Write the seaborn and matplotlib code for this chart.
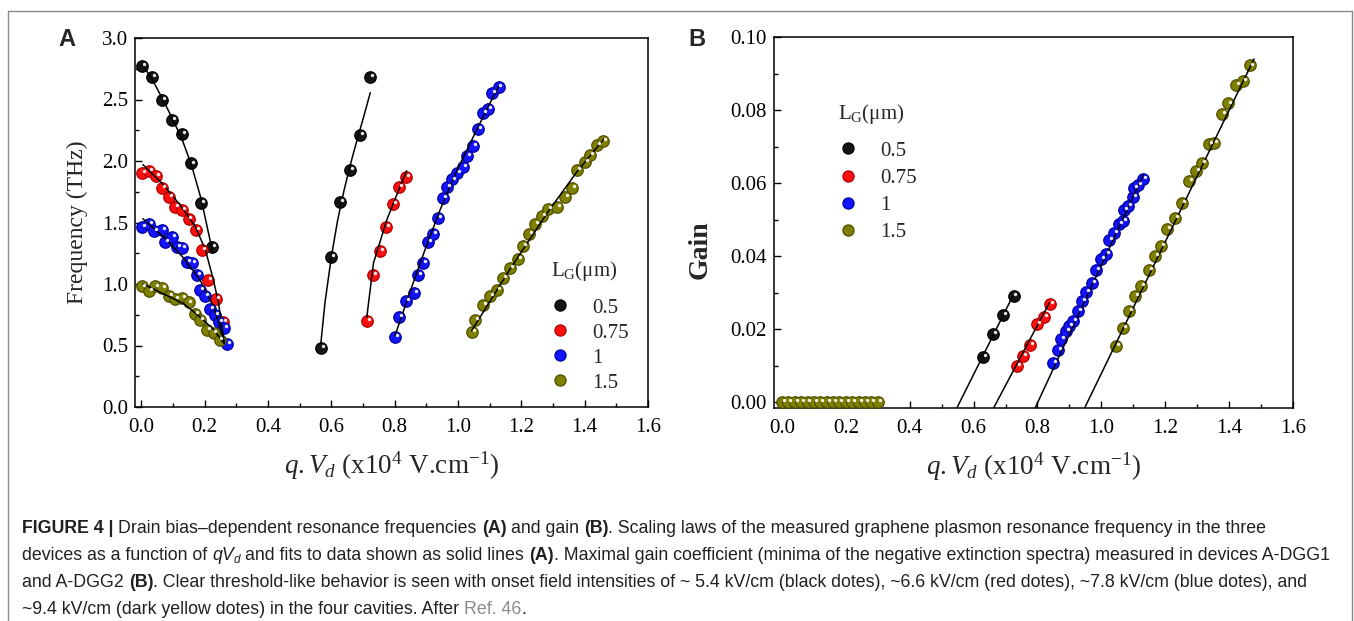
import numpy as np
import pandas as pd
import seaborn as sns
import matplotlib.pyplot as plt
from matplotlib.lines import Line2D
from matplotlib.legend_handler import HandlerTuple
from matplotlib.ticker import MultipleLocator, FormatStrFormatter
from matplotlib.transforms import offset_copy

# ---------------- data ----------------
lg_labels = ['0.5', '0.75', '1', '1.5']
lg_colors = ['#151515', '#ff1010', '#1414ff', '#808000']
lg_edges = ['#000000', '#b00000', '#0000a0', '#4f4f00']

# panel A : resonance frequency (THz)
a05_x = [0.002, 0.035, 0.066, 0.097, 0.128, 0.158, 0.189, 0.223,
         0.567, 0.599, 0.628, 0.660, 0.691, 0.723]
a05_y = [2.77, 2.685, 2.50, 2.33, 2.22, 1.98, 1.66, 1.30,
         0.477, 1.217, 1.664, 1.93, 2.21, 2.68]
a075_x = [0.002, 0.025, 0.045, 0.065, 0.086, 0.107, 0.128, 0.149, 0.174, 0.191, 0.212, 0.237, 0.258,
          0.712, 0.731, 0.754, 0.773, 0.794, 0.814, 0.836]
a075_y = [1.90, 1.92, 1.88, 1.78, 1.71, 1.63, 1.60, 1.53, 1.44, 1.28, 1.03, 0.88, 0.69,
          0.70, 1.07, 1.27, 1.46, 1.65, 1.79, 1.87]
a1_x = [0.002, 0.023, 0.039, 0.065, 0.076, 0.097, 0.113, 0.128, 0.144, 0.160, 0.176, 0.186, 0.202,
        0.218, 0.233, 0.244, 0.260, 0.272,
        0.801, 0.815, 0.836, 0.861, 0.875, 0.891, 0.904, 0.922, 0.936, 0.952, 0.965, 0.980, 0.996,
        1.015, 1.028, 1.047, 1.064, 1.080, 1.096, 1.107, 1.128]
a1_y = [1.46, 1.49, 1.43, 1.44, 1.34, 1.38, 1.30, 1.29, 1.18, 1.17, 1.07, 0.95, 0.90,
        0.80, 0.75, 0.69, 0.64, 0.51,
        0.567, 0.73, 0.86, 0.93, 1.07, 1.17, 1.34, 1.41, 1.54, 1.70, 1.79, 1.85, 1.90,
        1.95, 2.04, 2.12, 2.26, 2.39, 2.42, 2.55, 2.60]
a15_x = [0.002, 0.023, 0.044, 0.065, 0.086, 0.107, 0.128, 0.149, 0.170, 0.186, 0.207, 0.228, 0.247,
         1.043, 1.054, 1.080, 1.101, 1.122, 1.143, 1.164, 1.191, 1.206, 1.225, 1.243, 1.264,
         1.285, 1.312, 1.338, 1.359, 1.375, 1.401, 1.417, 1.438, 1.459]
a15_y = [0.98, 0.94, 0.98, 0.965, 0.90, 0.88, 0.89, 0.85, 0.76, 0.71, 0.63, 0.60, 0.545,
         0.61, 0.71, 0.83, 0.90, 0.95, 1.05, 1.13, 1.20, 1.31, 1.41, 1.49, 1.55,
         1.61, 1.63, 1.71, 1.78, 1.93, 1.99, 2.05, 2.13, 2.165]

# panel A : fit curves (each branch separately)
fitA = [
    ([0.002, 0.035, 0.066, 0.097, 0.128, 0.158, 0.189, 0.225],
     [2.79, 2.66, 2.51, 2.35, 2.18, 1.97, 1.69, 1.26]),
    ([0.567, 0.58, 0.60, 0.62, 0.64, 0.66, 0.68, 0.70, 0.723],
     [0.52, 0.85, 1.22, 1.52, 1.76, 1.97, 2.16, 2.34, 2.555]),
    ([0.005, 0.065, 0.123, 0.170, 0.202, 0.228, 0.244, 0.262],
     [1.97, 1.82, 1.64, 1.47, 1.28, 1.03, 0.84, 0.52]),
    ([0.712, 0.733, 0.775, 0.812, 0.838],
     [0.73, 1.17, 1.52, 1.76, 1.92]),
    ([0.005, 0.070, 0.134, 0.186, 0.228, 0.249, 0.262],
     [1.53, 1.385, 1.21, 1.03, 0.815, 0.65, 0.52]),
    ([0.801, 0.849, 0.896, 0.943, 0.996, 1.049, 1.091, 1.131],
     [0.58, 0.94, 1.28, 1.60, 1.92, 2.20, 2.42, 2.62]),
    ([0.005, 0.070, 0.134, 0.186, 0.228, 0.260],
     [1.00, 0.92, 0.84, 0.73, 0.63, 0.52]),
    ([1.043, 1.164, 1.285, 1.375, 1.461],
     [0.62, 1.12, 1.59, 1.91, 2.18]),
]

# panel B : gain
b05_x = [0.629, 0.660, 0.692, 0.725]
b05_y = [0.0125, 0.0187, 0.0239, 0.0290]
b075_x = [0.735, 0.754, 0.777, 0.798, 0.819, 0.840]
b075_y = [0.0098, 0.0126, 0.0156, 0.0215, 0.0233, 0.0270]
b1_x = [0.850, 0.864, 0.874, 0.888, 0.900, 0.910, 0.926, 0.940, 0.952, 0.971, 0.983, 0.999,
        1.015, 1.023, 1.041, 1.054, 1.067, 1.072, 1.082, 1.098, 1.103, 1.116, 1.129]
b1_y = [0.0108, 0.0143, 0.0172, 0.0195, 0.0208, 0.0222, 0.0250, 0.0278, 0.0303, 0.0327, 0.0362, 0.0391,
        0.0407, 0.0445, 0.0463, 0.0487, 0.0495, 0.0527, 0.0538, 0.0562, 0.0586, 0.0594, 0.0612]
b15_x = [0.00, 0.02, 0.04, 0.06, 0.08, 0.10, 0.12, 0.14, 0.16, 0.18, 0.20, 0.22, 0.24, 0.26, 0.28, 0.30,
         1.046, 1.067, 1.088, 1.106, 1.124, 1.148, 1.169, 1.186, 1.207, 1.231, 1.252, 1.273,
         1.296, 1.315, 1.338, 1.353, 1.379, 1.398, 1.421, 1.444, 1.465]
b15_y = [0.0, 0.0, 0.0, 0.0, 0.0, 0.0, 0.0, 0.0, 0.0, 0.0, 0.0, 0.0, 0.0, 0.0, 0.0, 0.0,
         0.0153, 0.0203, 0.0250, 0.0290, 0.0318, 0.0362, 0.0400, 0.0428, 0.0475, 0.0505, 0.0545, 0.0605,
         0.0632, 0.0655, 0.0708, 0.0710, 0.0790, 0.0818, 0.0868, 0.0880, 0.0922]

fitB = [
    ([0.548, 0.725], [-0.0015, 0.0295]),
    ([0.663, 0.837], [-0.0015, 0.0272]),
    ([0.793, 1.131], [-0.0015, 0.0622]),
    ([0.948, 1.478], [-0.0015, 0.0940]),
]

# ---------------- style ----------------
sns.set_style('ticks')
plt.rcParams['font.family'] = ['Liberation Serif', 'DejaVu Serif']
plt.rcParams['mathtext.fontset'] = 'custom'
plt.rcParams['mathtext.rm'] = 'Liberation Serif'
plt.rcParams['mathtext.it'] = 'Liberation Serif:italic'
plt.rcParams['mathtext.bf'] = 'Liberation Serif:bold'

W, H = 1354, 621
fig = plt.figure(figsize=(W / 100, H / 100), dpi=100)
axA = fig.add_axes([135 / W, 1 - 407 / H, 513 / W, 369 / H])
axB = fig.add_axes([774 / W, 1 - 407.7 / H, 519 / W, 370.7 / H])


def balls(ax, xs, ys, color, edge):
    df = pd.DataFrame({'x': xs, 'y': ys})
    sns.scatterplot(data=df, x='x', y='y', color=color, edgecolor=edge, linewidth=0.9,
                    s=68, ax=ax, zorder=3, clip_on=False, legend=False)
    shift = offset_copy(ax.transData, fig=fig, x=1.4, y=1.4, units='points')
    ax.scatter(df['x'], df['y'], s=6, color='white', alpha=0.9, linewidths=0,
               transform=shift, zorder=5, clip_on=False)


def fits(ax, curves):
    for fx, fy in curves:
        sns.lineplot(x=fx, y=fy, sort=False, estimator=None, color='black', lw=1.1,
                     ax=ax, zorder=4)


def style_axes(ax, xlim, ylim, ymajor, yminor, yfmt):
    ax.set_xlim(*xlim)
    ax.set_ylim(*ylim)
    ax.xaxis.set_major_locator(MultipleLocator(0.2))
    ax.xaxis.set_minor_locator(MultipleLocator(0.1))
    ax.yaxis.set_major_locator(MultipleLocator(ymajor))
    ax.yaxis.set_minor_locator(MultipleLocator(yminor))
    ax.xaxis.set_major_formatter(FormatStrFormatter('%.1f'))
    ax.yaxis.set_major_formatter(FormatStrFormatter(yfmt))
    ax.tick_params(which='both', direction='in', top=False, right=False, width=1.0,
                   colors='black', labelsize=15)
    ax.tick_params(which='major', length=5)
    ax.tick_params(which='minor', length=3)
    ax.tick_params(axis='y', pad=5)
    ax.tick_params(axis='x', pad=8)
    for sp in ax.spines.values():
        sp.set_visible(True)
        sp.set_linewidth(1.1)
        sp.set_color('black')


def make_legend(ax, anchor, spacing):
    handles = []
    for c, e in zip(lg_colors, lg_edges):
        handles.append((Line2D([], [], ls='', marker='o', ms=8, mfc=c, mec=e, mew=0.9),
                        Line2D([], [], ls='', marker='o', ms=2.2, mfc='white', mec='white')))
    leg = ax.legend(handles, lg_labels, handler_map={tuple: HandlerTuple(ndivide=None)},
                    title='L$_\\mathrm{G}$(μm)', loc='upper left', bbox_to_anchor=anchor,
                    frameon=False, fontsize=15, title_fontsize=15, handlelength=1.8,
                    handletextpad=0.2, labelspacing=spacing, borderpad=0, alignment='left')
    leg._legend_box.sep = 11
    return leg


xlab = '$q.V_d$ (x10$^4$ V.cm$^{-1}$)'

# ---------------- panel A ----------------
for xs, ys, c, e in zip([a05_x, a075_x, a1_x, a15_x], [a05_y, a075_y, a1_y, a15_y], lg_colors, lg_edges):
    balls(axA, xs, ys, c, e)
fits(axA, fitA)
style_axes(axA, (-0.02, 1.6), (0, 3.0), 0.5, 0.25, '%.1f')
axA.set_xlabel(xlab, fontsize=19.5, labelpad=9)
axA.set_ylabel('Frequency (THz)', fontsize=17, labelpad=10)
make_legend(axA, (0.79, 0.43), 0.26)

# ---------------- panel B ----------------
for xs, ys, c, e in zip([b05_x, b075_x, b1_x, b15_x], [b05_y, b075_y, b1_y, b15_y], lg_colors, lg_edges):
    balls(axB, xs, ys, c, e)
fits(axB, fitB)
style_axes(axB, (-0.025, 1.6), (-0.0015, 0.10), 0.02, 0.01, '%.2f')
axB.set_xlabel(xlab, fontsize=19.5, labelpad=9)
axB.set_ylabel('Gain', fontsize=20, fontweight='bold')
axB.yaxis.set_label_coords(-0.118, 0.425)
make_legend(axB, (0.104, 0.853), 0.36)

# panel letters
fig.text(67 / W, 1 - 40 / H, 'A', fontsize=17, fontweight='bold', ha='center', va='center',
         family=['Liberation Sans', 'DejaVu Sans'])
fig.text(697 / W, 1 - 40 / H, 'B', fontsize=17, fontweight='bold', ha='center', va='center',
         family=['Liberation Sans', 'DejaVu Sans'])

# thin frame around the figure
frame_kw = dict(transform=fig.transFigure, color='#8a8a8a', lw=1.0)
fig.add_artist(Line2D([8 / W, 1352 / W], [1 - 11 / H, 1 - 11 / H], **frame_kw))
fig.add_artist(Line2D([8 / W, 8 / W], [0, 1 - 11 / H], **frame_kw))
fig.add_artist(Line2D([1352 / W, 1352 / W], [0, 1 - 11 / H], **frame_kw))

# ---------------- caption ----------------
cap_size = 12.8
renderer = fig.canvas.get_renderer()
sans = ['Liberation Sans', 'DejaVu Sans']


def text_width(s, **kw):
    t = fig.text(0, 0, s, fontsize=cap_size, family=sans, **kw)
    w = t.get_window_extent(renderer).width
    t.remove()
    return w


space_w = text_width('a a') - text_width('aa')

B = {'fontweight': 'bold'}
I = {'style': 'italic'}
SUB = {'style': 'italic', 'fontsize': 8.5, 'dy': -3}
GRAY = {'color': '#8c8c8c'}
caption = [
    [('FIGURE 4 | ', B), ('Drain bias–dependent resonance frequencies ', {}), ('(A)', B),
     (' and gain ', {}), ('(B)', B),
     ('. Scaling laws of the measured graphene plasmon resonance frequency in the three', {})],
    [('devices as a function of ', {}), ('qV', I), ('d', SUB),
     (' and fits to data shown as solid lines ', {}), ('(A)', B),
     ('. Maximal gain coefficient (minima of the negative extinction spectra) measured in devices A-DGG1', {})],
    [('and A-DGG2 ', {}), ('(B)', B),
     ('. Clear threshold-like behavior is seen with onset field intensities of ~ 5.4 kV/cm (black dotes), '
      '~6.6 kV/cm (red dotes), ~7.8 kV/cm (blue dotes), and', {})],
    [('~9.4 kV/cm (dark yellow dotes) in the four cavities. After ', {}), ('Ref. 46', GRAY), ('.', {})],
]
baselines = [533, 560, 587, 614]

for line, yb in zip(caption, baselines):
    x = 22.0
    for txt, style in line:
        kw = {'fontsize': cap_size, 'color': '#231f20'}
        kw.update(style)
        dy = kw.pop('dy', 0)
        lead = len(txt) - len(txt.lstrip(' '))
        trail = len(txt) - len(txt.rstrip(' '))
        core = txt.strip(' ')
        x += lead * space_w
        t = fig.text(x / W, 1 - (yb - dy) / H, core, va='baseline', family=sans, **kw)
        x += t.get_window_extent(renderer).width + trail * space_w

fig.savefig('out.png', dpi=100)
